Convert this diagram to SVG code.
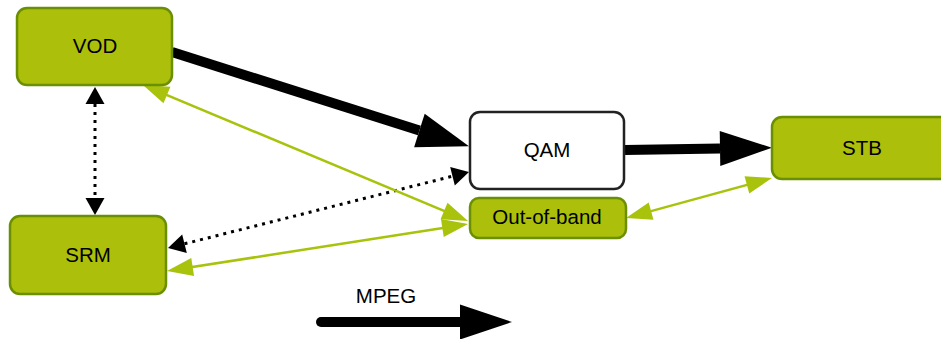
<svg xmlns="http://www.w3.org/2000/svg" width="941" height="339" viewBox="0 0 941 339">
  <style>
    .box { fill: #acbf0a; stroke: #6a8f00; stroke-width: 2.5; }
    .qam { fill: #ffffff; stroke: #222222; stroke-width: 2.5; }
    .lbl { font-family: "Liberation Sans", Arial, sans-serif; font-size: 20.5px; fill: #000; text-anchor: middle; }
    .thick { stroke: #000; stroke-width: 10; fill: none; }
    .dots { stroke: #000; stroke-width: 3; stroke-dasharray: 3 5; fill: none; }
    .ctrl { stroke: #a9c20c; stroke-width: 2.5; fill: none; }
  </style>
  <defs>
    <marker id="bigHead" markerUnits="userSpaceOnUse" markerWidth="52" markerHeight="35" refX="0" refY="17.5" orient="auto" overflow="visible">
      <path d="M0,0 L52,17.5 L0,35 z" fill="#000"/>
    </marker>
    <marker id="smallHead" markerUnits="userSpaceOnUse" markerWidth="17" markerHeight="19" refX="0" refY="9.5" orient="auto-start-reverse" overflow="visible">
      <path d="M0,0 L17,9.5 L0,19 z" fill="#000"/>
    </marker>
    <marker id="greenHead" markerUnits="userSpaceOnUse" markerWidth="26" markerHeight="18" refX="20" refY="9" orient="auto-start-reverse" overflow="visible">
      <path d="M0,0 L26,9 L0,18 z" fill="#a9c20c"/>
    </marker>
  </defs>

  <!-- connectors -->
  <g id="connectors">
    <path class="thick" d="M172,52 L419.4,130.5" marker-end="url(#bigHead)"/>
    <path class="thick" d="M625,150 L720,148.5" marker-end="url(#bigHead)"/>
    <path class="dots" d="M95,104 L95,198" marker-start="url(#smallHead)" marker-end="url(#smallHead)"/>
    <path class="dots" d="M184.5,243.8 L452.5,176.2" marker-start="url(#smallHead)" marker-end="url(#smallHead)"/>
    <path class="ctrl" d="M148.5,87.3 L462.5,218.7" marker-start="url(#greenHead)" marker-end="url(#greenHead)"/>
    <path class="ctrl" d="M172.9,270.1 L462.1,224.9" marker-start="url(#greenHead)" marker-end="url(#greenHead)"/>
    <path class="ctrl" d="M631.8,216.4 L766.2,179.6" marker-start="url(#greenHead)" marker-end="url(#greenHead)"/>
  </g>

  <g id="vod">
    <rect class="box" x="17" y="8" width="155" height="77" rx="10"/>
    <text class="lbl" x="95" y="53">VOD</text>
  </g>
  <g id="srm">
    <rect class="box" x="10" y="216" width="156" height="78" rx="10"/>
    <text class="lbl" x="88" y="262">SRM</text>
  </g>
  <g id="qam">
    <rect class="qam" x="470" y="112" width="154" height="77" rx="10"/>
    <text class="lbl" x="547" y="157">QAM</text>
  </g>
  <g id="oob">
    <rect class="box" x="470" y="198" width="156" height="40" rx="9"/>
    <text class="lbl" x="547" y="224">Out-of-band</text>
  </g>
  <g id="stb">
    <rect class="box" x="772" y="117" width="180" height="62" rx="10"/>
    <text class="lbl" x="862" y="155">STB</text>
  </g>

  <g id="legend">
    <text class="lbl" x="386" y="303">MPEG</text>
    <path class="thick" d="M321,322 L460,322" stroke-linecap="round" marker-end="url(#bigHead)"/>
  </g>
</svg>
